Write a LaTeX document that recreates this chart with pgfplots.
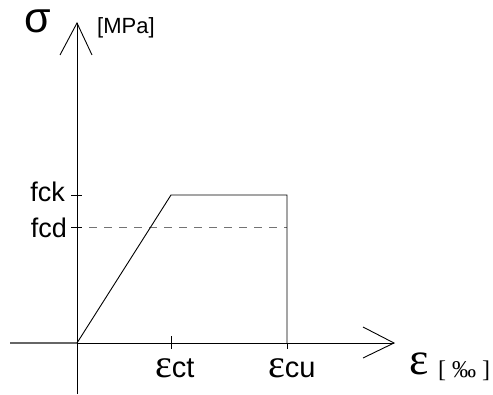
\documentclass[border=0pt]{standalone}
\usepackage{fontspec}
\setmainfont{Liberation Sans}
\newfontfamily\seriffont{Liberation Serif}
\usepackage{pgfplots}
\pgfplotsset{compat=1.18}
\begin{document}
\begin{tikzpicture}
\begin{axis}[
  scale only axis, width=493pt, height=394pt,
  xmin=-77, xmax=416, ymin=-51, ymax=343,
  hide axis, clip=false,
]
% invisible frame for the bounding box
\addplot[draw=none, forget plot] coordinates {(-77,-51) (416,343)};
% left part of x axis (thicker, grey)
\addplot[draw=black!60, line width=1.6pt] coordinates {(-67,0) (0,0)};
% x axis and arrow
\addplot[black, line width=0.9pt] coordinates {(0,0) (317,0)};
\addplot[black, line width=0.9pt] coordinates {(286,16) (317,0) (286,-15)};
% y axis and arrow
\addplot[black, line width=0.9pt] coordinates {(0,-51) (0,320)};
\addplot[black, line width=0.9pt] coordinates {(-17,288) (0,320) (15,288)};
% ticks
\addplot[black, line width=0.9pt] coordinates {(-6,148) (5,148)};
\addplot[black, line width=0.9pt] coordinates {(-6,116) (5,116)};
\addplot[black, line width=0.9pt] coordinates {(94,7) (94,-6)};
\addplot[black, line width=0.9pt] coordinates {(210,0) (210,-6)};
% design strength
\addplot[black!55, line width=1pt, dash pattern=on 7.5pt off 7.5pt] coordinates {(12,116) (210,116)};
% stress-strain curve
\addplot[black, line width=0.9pt] coordinates {(0,0) (94,148) (210,148) (210,0)};
% labels
\node[anchor=base west, inner sep=0pt, font=\fontsize{43}{43}\selectfont] at (axis cs:-53,310) {σ};
\node[anchor=base west, inner sep=0pt, font=\fontsize{22}{22}\selectfont] at (axis cs:20,309) {[MPa]};
\node[anchor=base east, inner sep=0pt, font=\fontsize{27}{27}\selectfont] at (axis cs:-12,142) {fck};
\node[anchor=base east, inner sep=0pt, font=\fontsize{27}{27}\selectfont] at (axis cs:-10,106) {fcd};
\node[anchor=base west, inner sep=0pt] at (axis cs:78,-34) {{\seriffont\fontsize{40}{40}\selectfont ε}{\fontsize{29}{29}\selectfont ct}};
\node[anchor=base west, inner sep=0pt] at (axis cs:191,-34) {{\seriffont\fontsize{40}{40}\selectfont ε}{\fontsize{29}{29}\selectfont cu}};
\node[anchor=base west, inner sep=0pt, font=\seriffont\fontsize{46}{46}\selectfont] at (axis cs:332,-31) {ε};
\node[anchor=base west, inner sep=0pt, font=\seriffont\fontsize{24}{24}\selectfont] at (axis cs:361,-34) {[ ‰ ]};
\end{axis}
\end{tikzpicture}
\end{document}
